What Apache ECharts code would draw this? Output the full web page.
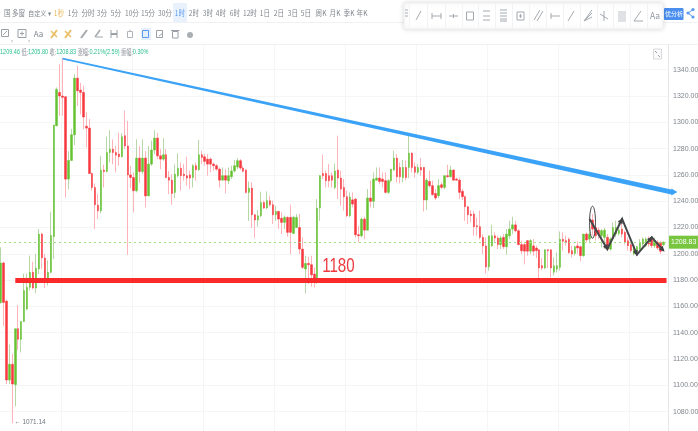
<!DOCTYPE html>
<html><head><meta charset="utf-8">
<style>html,body{margin:0;padding:0;background:#fff;overflow:hidden}#c{width:698px;height:431px;filter:blur(0.45px)}</style>
<script src="https://cdn.jsdelivr.net/npm/echarts@6/dist/echarts.min.js"></script>
</head><body><div id="c"></div>
<script>
// [open, close, low, high]
const candles = [
[1163,1193,1162,1205],[1193,1163,1145,1194],[1164,1104,1101,1165],[1104,1116,1101,1131],[1116,1101,1071.14,1124],
[1100.5,1143,1084,1143],[1143,1135,1127,1161],[1135,1148.6,1125,1148.6],[1148.6,1172,1148,1185],[1158,1174.5,1157,1185],
[1174.5,1186,1172,1198.6],[1186,1174,1173,1194],[1174,1189,1170,1200],[1188.5,1215,1184.6,1218.8],[1215,1197,1188.5,1216],
[1196.8,1180.8,1174,1200],[1180.8,1186,1175.8,1195],[1186,1214,1185,1232],[1213,1298,1196,1298],[1297.4,1325,1297,1326.5],
[1322.7,1320,1305,1344],[1320,1319,1305,1348.8],[1319.4,1256.8,1242.8,1320],[1256.8,1271,1249,1278],[1271,1290.5,1270.7,1295],
[1290.5,1333.6,1282.7,1336.6],[1333.6,1324,1312.6,1343],[1324.5,1322.7,1306,1330],[1322.7,1304,1294.8,1327.8],[1297,1295.6,1280.9,1307.5],
[1295.6,1261,1261,1302.4],[1261,1250.5,1248,1261.9],[1250.5,1237.3,1218.8,1253.5],[1237,1232.7,1226.4,1245.4],[1232.7,1263.6,1230.7,1274.5],
[1263.6,1262.6,1250.5,1267.7],[1262.6,1277,1261.9,1289],[1277,1279.6,1269.5,1294],[1279.6,1277,1268,1287],[1277,1275,1261.9,1282],
[1275.8,1273.8,1267,1292],[1273.8,1289,1273.3,1291.5],[1289.8,1282,1279.6,1308.8],[1282,1260,1199.3,1301],[1260,1258,1250,1267],
[1258,1248,1231.5,1261.9],[1248,1272.8,1246.7,1287],[1272.8,1262.6,1254,1282],[1262.6,1272.8,1260.6,1287],[1272.8,1244,1235.3,1278],
[1244,1268.2,1244,1282],[1268.2,1278.9,1267,1286],[1278.9,1288,1275.8,1294],[1288,1274.5,1272,1292],[1274.5,1272,1264.4,1279.6],
[1272,1275.3,1270.7,1288],[1275.3,1258,1257.6,1279.6],[1258,1256,1245.4,1263],[1256,1245.9,1237.3,1260.6],[1246.7,1260.6,1242.4,1268],
[1259.4,1265,1258,1276.4],[1265,1259.4,1248,1269.5],[1260.6,1259.4,1255.6,1268.2],[1259.4,1257.6,1251.8,1273.8],[1260,1257.6,1249.2,1263.2],
[1258,1267,1250.5,1268.2],[1267,1264,1255.6,1269.5],[1264,1275.3,1263,1286.5],[1275.3,1273.3,1268.2,1278.4],[1273.8,1270.3,1267,1275.9],
[1272,1268.2,1259.4,1275.9],[1272,1268.2,1261.9,1273.3],[1268.2,1267,1263.2,1269.5],[1267,1264.4,1263.2,1268.2],[1264.4,1256,1250.5,1265.7],
[1256,1259.4,1255.6,1265.7],[1259.4,1256,1245.9,1264.4],[1255.6,1259.4,1253,1265.7],[1258.6,1263,1256.8,1267],[1263,1267,1261.9,1271.3],
[1266,1270.8,1264.4,1272.8],[1270.8,1265.2,1263.7,1272],[1265.2,1262.7,1261.9,1267],[1263.7,1246.7,1245.9,1264.4],[1246.7,1250,1225,1255],
[1250,1229.7,1219.6,1254.3],[1229.7,1225.7,1212,1230.2],[1225.7,1228.9,1220.6,1233.3],[1228.9,1239,1227.7,1247.2],[1239,1234.8,1234,1240.4],
[1234.8,1240.4,1234,1247.5],[1240.4,1237.3,1235.8,1244.2],[1237.3,1229.7,1222.6,1240.4],[1229.7,1232.2,1225,1236.6],[1232.2,1226.4,1218.8,1232.7],
[1227,1223.9,1215,1231.5],[1223.9,1227.7,1218.8,1229],[1227.7,1216.3,1213,1228.5],[1227.7,1216.3,1199.8,1237.3],[1215.5,1227.7,1215,1229],
[1220,1227.7,1219.5,1230.2],[1220,1203.6,1199.8,1230.2],[1203.6,1189.7,1188.4,1212.5],[1188.4,1192.7,1170,1198.5],[1192.7,1191.7,1177,1197.8],
[1191.7,1184,1175,1198.5],[1184.6,1181.5,1174.4,1189.7],[1179.5,1234.8,1177,1241.6],[1234.8,1259.4,1225,1260],[1261,1259.4,1256.8,1275.3],
[1261,1255.6,1250.5,1263.2],[1259.4,1255.6,1250.5,1268.2],[1259.4,1256,1250.5,1261.9],[1250.5,1263,1249.2,1268.7],[1263.7,1257.6,1241.6,1289.8],
[1257.6,1249.2,1236.6,1263.2],[1250.5,1243.4,1232.8,1256.8],[1243.4,1229,1227.7,1248],[1229,1243,1227.7,1246.7],[1241,1237.8,1235.3,1246.7],
[1241.6,1214.5,1212.5,1242.4],[1214.5,1213.7,1208.7,1221.3],[1213.7,1226.4,1212.5,1227.7],[1226.4,1218,1211.2,1228.2],[1218,1242.4,1217.5,1249.2],
[1242.4,1239.9,1235.3,1255.6],[1239.9,1256.8,1234.8,1261.9],[1256,1257.6,1255.6,1265.7],[1257.6,1255,1253,1265.7],[1256.8,1255,1250.5,1261.9],
[1255.6,1246.7,1245.9,1261.9],[1246.7,1255.6,1245.4,1256.8],[1255.6,1264.4,1254.3,1264.4],[1263.7,1272.8,1263.2,1278.4],[1272.8,1258.6,1254.3,1275.9],
[1265.7,1258.6,1253.5,1269.5],[1258,1265.7,1254.3,1271.3],[1265.7,1258,1256,1270.8],[1265.7,1276.6,1257.6,1291],[1276.6,1265.7,1261.9,1277.1],
[1266.2,1262,1258,1269.5],[1262,1265.7,1260.6,1268.2],[1265.7,1263.7,1259.4,1272.8],[1265.7,1240.9,1232.2,1266],[1240.9,1256,1233.3,1257.6],
[1255,1251.8,1250.5,1263.2],[1251.8,1245,1244.2,1255.6],[1245.9,1242.4,1240.9,1249.2],[1244.2,1251.8,1242.4,1256.8],[1252.5,1250.5,1249.2,1254.3],
[1250.5,1259.4,1249.2,1259.6],[1259.4,1258.6,1258,1267.7],[1258.6,1263.7,1258,1267],[1263.7,1256,1255.6,1264],[1256.8,1256,1255.6,1258],
[1256,1246.7,1241.6,1258],[1247.5,1243.4,1240.9,1249.2],[1243.4,1235.8,1225,1244.2],[1235.8,1229.7,1222.6,1236.6],[1230.2,1229,1223.9,1233.3],
[1230.2,1220.6,1213.7,1232.8],[1221.3,1220.6,1213.7,1227.7],[1220.6,1212.5,1211,1232.8],[1212.5,1206,1199.8,1215],[1206,1190,1185,1212.5],
[1190,1213.7,1187,1213.7],[1206,1213.7,1205.4,1222.1],[1213.7,1212,1208.7,1216.3],[1212,1207,1203.6,1213.7],[1207,1212,1203.6,1213.7],
[1212.5,1205.4,1203.6,1215],[1205.4,1215,1199.3,1218.8],[1213.7,1218.8,1211.2,1225.1],[1218.8,1222,1215,1228.2],[1222,1217.5,1216.3,1225.1],
[1217.5,1207,1206.2,1218.8],[1207,1202.3,1199.8,1210],[1207,1202,1192,1209],[1210,1202,1198.6,1210.5],[1202,1210,1199.8,1211.2],
[1206,1202,1198.6,1211.2],[1204.4,1202.4,1196.8,1206.2],[1203,1189.2,1180.8,1203.6],[1191,1189.2,1187.7,1196.8],[1189.2,1203,1188.4,1203.6],
[1203,1202.4,1189.2,1203.6],[1203,1189.2,1182,1203.6],[1186,1191,1183.3,1197.3],[1188.4,1191,1185.9,1201],[1189.7,1211,1187.2,1217],
[1211,1209.5,1202.4,1216.3],[1210,1208.7,1206.2,1213.8],[1211,1201,1199.8,1212.5],[1202.4,1199.8,1197.3,1206.2],[1200.3,1205.4,1198.6,1206.2],
[1206,1204.4,1199.8,1209.5],[1205.4,1198.6,1194.2,1206.2],[1198.6,1215,1197.8,1215],[1215,1210.5,1208.7,1216.3],[1211.2,1215,1208,1221.4],
[1225.7,1218.8,1213.8,1230.2],[1220,1213.8,1210,1222.6],[1218,1215,1211.2,1220],[1213.8,1217.6,1204.9,1218.8],[1212.5,1218,1203.6,1219.6],
[1212.5,1203.6,1202.4,1215],[1203.6,1211.2,1202.4,1212.5],[1211.2,1220,1210,1223.9],[1215,1220,1212.5,1225.2],[1215.5,1218,1213.8,1225.2],
[1218.8,1215,1212.5,1226.4],[1216.3,1208.7,1207,1217.6],[1210,1206.2,1202.4,1212.5],[1206.9,1202.4,1201,1208],[1199.8,1206,1198.6,1206.9],
[1202.4,1205.4,1199.8,1206.2],[1203.6,1208.7,1202.4,1211.2],[1207.4,1211.2,1205.4,1212.5],[1206.2,1211.2,1205,1212.5],[1211.2,1207.4,1205.4,1213.3],
[1211.2,1206.2,1204.4,1212.5],[1206.2,1210,1204.4,1212.5],[1208.7,1204.4,1202.9,1210.5],[1208.7,1201.9,1199.8,1209.5],[1206.9,1208.83,1205.8,1209.46]
];
const lastPrice = 1208.83;
const supportLevel = 1180;
const supportStart = 5, supportEnd = 225;
const trendLine = [[21,1348.4],[228,1247]];
const zigzag = [[199,1226.5],[205,1203.6],[210,1226.5],[215,1199.3],[220,1212.5],[224,1202.4]];
const circled = {x:200, y:1224};
const lowMark = {x:6, y:1071.14, text:'← 1071.14'};
const yTicks = {min:1060, max:1360, step:20};
const periodLabels = ['1秒','1分','分时','3分','5分','10分','15分','30分','1时','2时','3时','4时','6时','12时','1日','2日','3日','5日','周K','月K','季K','年K'];
const periodX = [59,73,88,102,116,132,148,165,180,194,208,221,235,250,265,279,293,306,321,335,349,362];

const categories = candles.map((_,i)=>'k'+i).concat(['k225']);
const bodies = candles.map(d=>[d[0],d[1],Math.min(d[0],d[1]),Math.max(d[0],d[1])]);

const RED='#f7383f', GREEN='#67c232', PALE_RED='#ffb3ba', PALE_GREEN='#b7d8a6', GREY='#8e9499';
const SANS='"Liberation Sans",sans-serif';

function txt(x,y,t,fill,size,align,sx){return {type:'text',x,y,z:102,scaleX:sx||0.88,style:{text:t,fill:fill||'#7f858b',font:(size||7.5)+'px "Noto Sans CJK SC",'+SANS,textAlign:align||'center',textVerticalAlign:'middle'}};}
function ln(x1,y1,x2,y2,c,w){return {type:'line',z:102,shape:{x1,y1,x2,y2},style:{stroke:c||GREY,lineWidth:w||1}};}
function box(x,y,w,h,f,s,r,extra){return Object.assign({type:'rect',z:101,shape:{x,y,width:w,height:h,r:r||0},style:{fill:f||'none',stroke:s||'none',lineWidth:1}},extra||{});}

const g=[];
g.push(box(0,0,698,44,'#fff',null,0,{z:100}));
g.push(ln(0,22.5,698,22.5,'#f0f1f3'));
g.push(ln(0,44.5,698,44.5,'#eef0f2'));
g.push(box(173,3,14,19,'#e9f1fc'));
g.push(txt(4,13,'国','#7f858b',7.5,'left'));
g.push(txt(12,13,'多窗','#7f858b',7.5,'left'));
g.push(txt(28,13,'自定义 ▾','#7f858b',7,'left'));
periodLabels.forEach((t,i)=>g.push(txt(periodX[i],13,t,i===0?'#e9b85c':i===8?'#5b9cf0':'#80868c',7.5)));
// second row icons
g.push(box(1.5,29.5,7,7,null,'#9aa0a6'),ln(3,35,7,31,'#9aa0a6'));
g.push(box(18,29.5,8,8,null,'#9aa0a6'),ln(20,33.5,24,33.5,'#9aa0a6'),ln(22,31.5,22,35.5,'#9aa0a6'));
g.push(txt(12,38,',','#8a9096',8),txt(29,38,',','#8a9096',8));
g.push(txt(38.5,34,'Aa','#7f858b',8,'center',1));
[54,68].forEach(x=>{g.push(ln(x-3,38,x+3,30,'#e9bf66',2),ln(x-3,31,x+3,37,'#e9bf66',1.5));});
g.push(ln(81,38,87,30,'#a4a9ae',2));
g.push(ln(95,37,100,30,'#a4a9ae',1.5),ln(96,37,103,37,'#a4a9ae'));
g.push(ln(111,30,111,38,'#9aa0a6'),ln(117,30,117,38,'#9aa0a6'),ln(111,34,117,34,'#9aa0a6',2));
g.push(box(127.5,31.5,5,6,null,'#b0b5ba'),ln(130,29.5,130,31.5,'#b0b5ba'));
g.push(box(141,28,10,12,'#e6f0fc'),box(142.5,30.5,6,7,null,'#5b9cf0'));
g.push(box(156.5,30.5,6,7,null,'#9aa0a6'),ln(159,36,163,33,'#9aa0a6'));
g.push(box(172.5,31.5,5.5,6.5,null,'#9aa0a6'),ln(171,30.5,179.5,30.5,'#9aa0a6'));
g.push({type:'circle',z:102,shape:{cx:190,cy:35,r:3},style:{fill:'#a9aeb3'}});
// floating toolbar
g.push(box(404,3,259,26,'#fff','#f0f1f3',2,{z:103,style:{fill:'#fff',stroke:'#eff0f2',lineWidth:1,shadowBlur:5,shadowColor:'rgba(0,0,0,.14)'}}));
function tb(el){el.z=104;g.push(el);}
[409,427,445,462,478,495,512,529,546,563,580,597,613,630,647].forEach(x=>tb(ln(x+.5,4,x+.5,28,'#f2f3f5')));
[10,13,16].forEach(y=>tb(ln(405,y,408,y,'#a8adb2')));
const C='#a5aab0';
tb(ln(416,20,421,11,C));
tb(ln(432,16,441,16,C));tb(ln(432,13,432,19,C));tb(ln(441,13,441,19,C));
tb(ln(449,16,458,16,C));tb(ln(453.5,14,453.5,18,C));
tb(box(466.5,12,7,8,null,C));
[11,16,20].forEach(y=>tb(ln(483,y,490,y,C)));
[10,13,16,19,21].forEach(y=>tb(ln(500,y,507,y,C)));
tb(box(517,12,7,8,null,C));tb(ln(519,16,522,16,C));tb(ln(520.5,14,520.5,18,C));
tb(ln(534,20,540,10,C));tb(ln(537,21,543,11,C));
tb(ln(551,16,560,16,C));tb(ln(551,13,551,19,C));
tb(ln(568,21,574,11,C));
tb(ln(584,21,592,10,C));tb(ln(584,21,592,17,C));tb(ln(584,21,592,13,C));
tb(ln(604,11,604,21,C));tb(ln(600,14,608,19,C));
tb(box(618,11,8,11,'#dfe1e4'));
tb(ln(634,21,641,11,C));tb(ln(634,21,643,21,C));
g.push(Object.assign(txt(655,16,'Aa','#9197a0',8.5,'center',1),{z:104}));
// right corner
g.push(box(664,8,19.5,12,'#4a8fef',null,1,{z:102}));
g.push(txt(674,14,'优分析','#fff',6,'center',1));
g.push({type:'circle',z:102,shape:{cx:693,cy:9.5,r:1.6},style:{fill:'#5b9cf0'}},{type:'circle',z:102,shape:{cx:693,cy:17,r:1.6},style:{fill:'#5b9cf0'}},{type:'circle',z:102,shape:{cx:688,cy:13,r:1.6},style:{fill:'#5b9cf0'}},ln(688,13,693,9.5,'#5b9cf0'),ln(688,13,693,17,'#5b9cf0'));
// fullscreen icon
g.push(box(653.5,49,8,10,'#fafafa','#d8dadd'),ln(655,51,657,53,'#9aa0a6'),ln(660,57,658,55,'#9aa0a6'));
// status line
const TEAL='#29bf8f';
g.push({type:'text',x:0,y:52,z:102,scaleX:0.69,style:{font:'8px '+SANS,textVerticalAlign:'middle',
 rich:{g:{fill:TEAL,font:'8px '+SANS},k:{fill:'#8a9096',font:'7.5px "Noto Sans CJK SC"'}},
 text:'{g|1209.46} {k|低:}{g|1205.80} {k|收:}{g|1208.83} {k|涨幅:}{g|0.21%(2.59)} {k|振幅:}{g|0.30%}'}});

const chart=echarts.init(document.getElementById('c'),null,{renderer:'canvas'});
const yAxisLabel=v=>(v===yTicks.min||v===yTicks.max)?'':v.toFixed(2);

function renderMarks(params,api){
  const pt=p=>api.coord(p);
  const a=pt(trendLine[0]), b=pt(trendLine[1]);
  const t0=0.9, t1=2.5;
  const blue={type:'polygon',shape:{points:[[a[0],a[1]-t0],[b[0]-4,b[1]-t1],[b[0]-4,b[1]-t1-1],[b[0]+2,b[1]],[b[0]-4,b[1]+t1+1],[b[0]-4,b[1]+t1],[a[0],a[1]+t0]]},style:{fill:'#3aa2f7'}};
  const pts=zigzag.map(pt);
  const zig={type:'polyline',shape:{points:pts},style:{fill:'none',stroke:'#45474a',lineWidth:2,lineJoin:'miter'}};
  const arrows=[1,3,5,2,4].map(k=>{
    const p=pts[k], q=pts[k-1], ang=Math.atan2(p[1]-q[1],p[0]-q[0]), s=5;
    return {type:'polygon',shape:{points:[[p[0]+Math.cos(ang)*1.5,p[1]+Math.sin(ang)*1.5],
      [p[0]-Math.cos(ang-.55)*s,p[1]-Math.sin(ang-.55)*s],[p[0]-Math.cos(ang+.55)*s,p[1]-Math.sin(ang+.55)*s]]},style:{fill:'#3f4144'}};
  });
  const c=pt([circled.x,circled.y]);
  const ring={type:'ellipse',shape:{cx:c[0],cy:c[1],rx:api.size([1.5,0])[0],ry:api.size([0,12.2])[1]},style:{fill:'none',stroke:'#4a4a4a',lineWidth:1}};
  const sl=pt([109,supportLevel+10]);
  const label={type:'text',x:sl[0]-1,y:sl[1]-1,scaleX:0.72,style:{text:String(supportLevel),fill:'#ee3a3f',font:'21px "Liberation Sans"',textVerticalAlign:'middle'}};
  const lm=pt([lowMark.x,lowMark.y]);
  const low={type:'text',x:lm[0]-4,y:lm[1]-1,scaleX:0.8,style:{text:lowMark.text,fill:'#6f757b',font:'8px '+SANS,textVerticalAlign:'middle'}};
  return {type:'group',children:[blue,zig].concat(arrows,[ring,label,low])};
}

chart.setOption({
  animation:false,
  backgroundColor:'#fff',
  grid:{left:-1,right:30,top:43.4,height:394.5,containLabel:false,outerBoundsMode:'none'},
  xAxis:{type:'category',data:categories,boundaryGap:true,
    axisLine:{show:false},axisTick:{show:false},axisLabel:{show:false},
    splitLine:{show:true,interval:i=>i%24===21,lineStyle:{color:'#f5f5f6',width:1}}},
  yAxis:{type:'value',position:'right',min:yTicks.min,max:yTicks.max,interval:yTicks.step,
    axisLine:{show:true,lineStyle:{color:'#e6e7e9'}},axisTick:{show:false},
    axisLabel:{color:'#80868c',fontSize:7,margin:5,fontFamily:'Liberation Sans',formatter:yAxisLabel},
    splitLine:{show:true,lineStyle:{color:'#f5f5f6',width:1}}},
  graphic:{elements:g},
  series:[
   {type:'candlestick',name:'wick',data:candles,barWidth:1,clip:false,
    itemStyle:{color:PALE_GREEN,color0:PALE_RED,borderColor:PALE_GREEN,borderColor0:PALE_RED,borderWidth:1},
    markLine:{silent:true,symbol:'none',animation:false,
      data:[
       {yAxis:lastPrice,lineStyle:{color:'#9fe07f',type:[2,3],width:1},
        label:{show:true,position:'end',distance:1,formatter:()=>lastPrice.toFixed(2),color:'#fff',backgroundColor:'#78c63f',padding:[3,2,3,2],fontSize:7,fontFamily:'Liberation Sans'}}
      ]}},
   {type:'candlestick',name:'body',data:bodies,barWidth:2,z:3,
    itemStyle:{color:GREEN,color0:RED,borderColor:GREEN,borderColor0:RED,borderWidth:0.5},
    markLine:{silent:true,symbol:'none',animation:false,z:5,
      label:{show:false},
      lineStyle:{color:'#fb2a2a',width:5,type:'solid'},
      data:[[{coord:[supportStart,supportLevel]},{coord:[supportEnd,supportLevel]}]]}},
   {type:'custom',name:'marks',coordinateSystem:'cartesian2d',data:[[0,supportLevel]],z:6,clip:false,silent:true,renderItem:renderMarks}
  ]
});
</script></body></html>
